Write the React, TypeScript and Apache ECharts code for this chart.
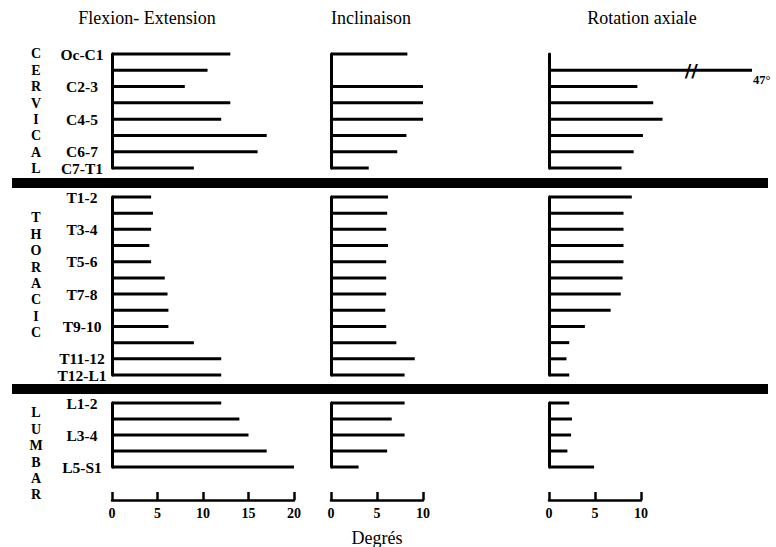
import React, { useEffect, useRef } from 'react';
import * as echarts from 'echarts';

// Segments
const cervicalSegments = ['Oc-C1', 'C1-2', 'C2-3', 'C3-4', 'C4-5', 'C5-6', 'C6-7', 'C7-T1'];
const thoracicSegments = ['T1-2', 'T2-3', 'T3-4', 'T4-5', 'T5-6', 'T6-7', 'T7-8', 'T8-9', 'T9-10', 'T10-11', 'T11-12', 'T12-L1'];
const lumbarSegments = ['L1-2', 'L2-3', 'L3-4', 'L4-5', 'L5-S1'];

// Labels shown on the left
const cervicalLabels = ['Oc-C1', 'C2-3', 'C4-5', 'C6-7', 'C7-T1'];
const thoracicLabels = ['T1-2', 'T3-4', 'T5-6', 'T7-8', 'T9-10', 'T11-12', 'T12-L1'];
const lumbarLabels = ['L1-2', 'L3-4', 'L5-S1'];

// Region names (written vertically)
const regionNames = ['CERVICAL', 'THORACIC', 'LUMBAR'];

// Column titles
const columnTitles = ['Flexion- Extension', 'Inclinaison', 'Rotation axiale'];
const axisName = 'Degrés';

// Flexion-extension (degrees)
const flexCervical = [13, 10.5, 8, 13, 12, 17, 16, 9];
const flexThoracic = [4.3, 4.5, 4.3, 4.1, 4.3, 5.8, 6.1, 6.2, 6.2, 9, 12, 12];
const flexLumbar = [12, 14, 15, 17, 20];

// Inclinaison (lateral bending)
const inclCervical = [8.3, 0, 10.2, 11.2, 11.3, 8.2, 7.2, 4.1];
const inclThoracic = [6.2, 6.1, 6, 6.2, 6, 6, 6, 5.9, 6, 7.1, 9.1, 8];
const inclLumbar = [8, 6.6, 8, 6.1, 3];

// Rotation axiale
const rotCervical = [0, 47, 9.5, 11.2, 12.2, 10.1, 9.1, 7.8];
const rotThoracic = [9, 8.1, 8.1, 8.1, 8.1, 8, 7.8, 6.7, 3.9, 2.2, 1.9, 2.2];
const rotLumbar = [2.2, 2.5, 2.4, 2, 4.9];

const FONT = 'Liberation Serif';

export default function App() {
  const ref = useRef<HTMLDivElement>(null);

  useEffect(() => {
    const chart = echarts.init(ref.current!, null, { renderer: 'svg' });

    const regions = [
      { cats: cervicalSegments, labels: cervicalLabels, top: 54, height: 114 },
      { cats: thoracicSegments, labels: thoracicLabels, top: 197, height: 178 },
      { cats: lumbarSegments, labels: lumbarLabels, top: 403, height: 64 },
    ];
    const columns = [
      { left: 112, width: 182, max: 20, data: [flexCervical, flexThoracic, flexLumbar] },
      { left: 331, width: 92, max: 10, data: [inclCervical, inclThoracic, inclLumbar] },
      { left: 549, width: 92, max: 10, data: [rotCervical, rotThoracic, rotLumbar] },
    ];
    const breakStart = 15.5;
    const breakEnd = 45;

    const grids: any[] = [];
    const xAxes: any[] = [];
    const yAxes: any[] = [];
    const series: any[] = [];

    columns.forEach((col, c) => {
      regions.forEach((reg, r) => {
        const idx = grids.length;
        const data = col.data[r];
        const isBroken = c === 2 && r === 0;
        const maxVal = isBroken ? Math.max(...data) : col.max;
        const width = isBroken ? 203 : col.width;
        grids.push({
          left: col.left,
          top: reg.top,
          width,
          height: reg.height,
          outerBoundsMode: 'none',
          containLabel: false,
        });
        const isBottom = r === 2;
        const xa: any = {
          gridIndex: idx,
          type: 'value',
          min: 0,
          max: maxVal,
          interval: 5,
          show: isBottom,
          position: 'bottom',
          offset: 33,
          splitLine: { show: false },
          axisLine: { show: true, lineStyle: { color: '#000', width: 2.5 } },
          axisTick: { show: true, inside: true, length: 8, lineStyle: { color: '#000', width: 2.5 } },
          axisLabel: {
            show: true,
            margin: 6,
            color: '#000',
            fontFamily: FONT,
            fontWeight: 'bold',
            fontSize: 14,
          },
        };
        if (isBroken) {
          xa.breaks = [{ start: breakStart, end: breakEnd, gap: '19.8%' }];
          xa.breakArea = { show: false };
        }
        if (isBottom && c === 1) {
          xa.name = axisName;
          xa.nameLocation = 'middle';
          xa.nameGap = 29;
          xa.nameTextStyle = { color: '#000', fontFamily: FONT, fontWeight: 'normal', fontSize: 18 };
        }
        xAxes.push(xa);
        yAxes.push({
          gridIndex: idx,
          type: 'category',
          data: reg.cats,
          inverse: true,
          boundaryGap: false,
          axisLine: { show: true, lineStyle: { color: '#000', width: 3 } },
          axisTick: { show: false },
          splitLine: { show: false },
          axisLabel: {
            show: c === 0,
            interval: (i: number, v: string) => reg.labels.includes(v),
            align: 'center',
            margin: 30,
            color: '#000',
            fontFamily: FONT,
            fontWeight: 'bold',
            fontSize: 15.5,
          },
        });
        const s: any = {
          type: 'bar',
          xAxisIndex: idx,
          yAxisIndex: idx,
          data: isBroken
            ? data.map((v) =>
                v > breakEnd
                  ? {
                      value: v,
                      label: {
                        show: true,
                        position: 'right',
                        distance: 1,
                        offset: [0, 10],
                        formatter: '{c}°',
                        color: '#000',
                        fontFamily: FONT,
                        fontWeight: 'bold',
                        fontSize: 12.5,
                      },
                    }
                  : v
              )
            : data,
          barWidth: 3,
          itemStyle: { color: '#000' },
          silent: true,
        };
        if (isBroken) {
          const bigIdx = data.findIndex((v) => v > breakEnd);
          s.markPoint = {
            symbol: 'rect',
            symbolSize: 1,
            itemStyle: { color: 'rgba(0,0,0,0)' },
            label: {
              show: true,
              position: 'inside',
              formatter: '//',
              color: '#000',
              fontFamily: 'DejaVu Sans',
              fontWeight: 'bold',
              fontSize: 18,
            },
            data: [{ coord: [15.3, reg.cats[bigIdx]] }],
          };
        }
        series.push(s);
      });
    });

    const titleCenters = [147, 371, 642];
    const graphic: any[] = [];
    columnTitles.forEach((t, i) => {
      graphic.push({
        type: 'text',
        x: titleCenters[i],
        y: 9,
        style: {
          text: t,
          fill: '#000',
          fontFamily: FONT,
          fontWeight: 'normal',
          fontSize: 18,
          textAlign: 'center',
        },
      });
    });
    const letterStarts = [54, 218, 413];
    regionNames.forEach((name, i) => {
      graphic.push({
        type: 'text',
        x: 36,
        y: letterStarts[i] - 8.2,
        style: {
          text: name.split('').join('\n'),
          fill: '#000',
          fontFamily: FONT,
          fontWeight: 'bold',
          fontSize: 14,
          lineHeight: 16.4,
          align: 'center',
          verticalAlign: 'top',
        },
      });
    });
    [178, 384].forEach((y) => {
      graphic.push({
        type: 'rect',
        shape: { x: 12, y, width: 756, height: 10 },
        style: { fill: '#000' },
      });
    });

    chart.setOption({
      animation: false,
      backgroundColor: '#fff',
      grid: grids,
      xAxis: xAxes,
      yAxis: yAxes,
      series,
      graphic,
    });

    return () => chart.dispose();
  }, []);

  return (
    <div
      ref={ref}
      style={{ position: 'fixed', left: 0, top: 0, width: 776, height: 547 }}
    />
  );
}
